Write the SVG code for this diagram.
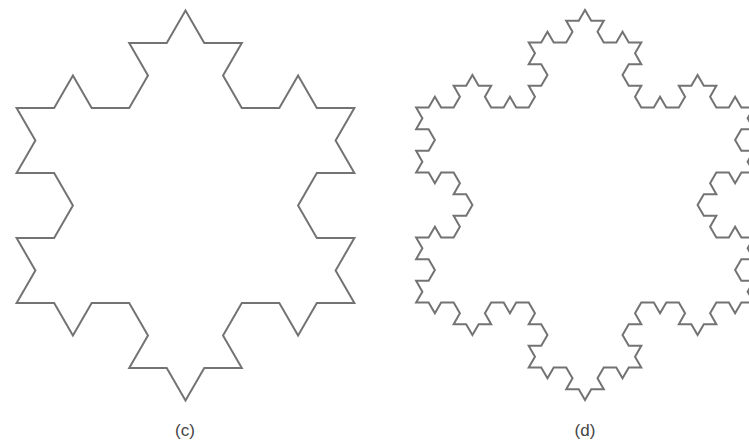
<svg xmlns="http://www.w3.org/2000/svg" width="749" height="447" viewBox="0 0 749 447">
<style>
.koch{fill:none;stroke:#737373;stroke-width:2;stroke-linejoin:miter}
.lbl{font-family:"Liberation Sans",Arial,sans-serif;font-size:17px;fill:#444;text-anchor:middle}
</style>
<rect width="749" height="447" fill="#fff"/>
<g id="snowflake-c">
<path class="koch" d="M185.5,10.5
l-18.764,32.5 l-37.528,0 l18.764,32.5 l-18.764,32.5
l-37.528,0 l-18.764,-32.5 l-18.764,32.5 l-37.528,0
l18.764,32.5 l-18.764,32.5 l37.528,0 l18.764,32.5
l-18.764,32.5 l-37.528,0 l18.764,32.5 l-18.764,32.5
l37.528,0 l18.764,32.5 l18.764,-32.5 l37.528,0
l18.764,32.5 l-18.764,32.5 l37.528,0 l18.764,32.5
l18.764,-32.5 l37.528,0 l-18.764,-32.5 l18.764,-32.5
l37.528,0 l18.764,32.5 l18.764,-32.5 l37.528,0
l-18.764,-32.5 l18.764,-32.5 l-37.528,0 l-18.764,-32.5
l18.764,-32.5 l37.528,0 l-18.764,-32.5 l18.764,-32.5
l-37.528,0 l-18.764,-32.5 l-18.764,32.5 l-37.528,0
l-18.764,-32.5 l18.764,-32.5 l-37.528,0 l-18.764,-32.5 z"/>
<text class="lbl" x="185" y="436">(c)</text>
</g>
<g id="snowflake-d">
<path class="koch" d="M585,10
l-6.255,10.833 l-12.509,0 l6.255,10.833 l-6.255,10.833
l-12.509,0 l-6.255,-10.833 l-6.255,10.833 l-12.509,0
l6.255,10.833 l-6.255,10.833 l12.509,0 l6.255,10.833
l-6.255,10.833 l-12.509,0 l6.255,10.833 l-6.255,10.833

l-12.509,0 l-6.255,-10.833 l-6.255,10.833 l-12.509,0
l-6.255,-10.833 l6.255,-10.833 l-12.509,0 l-6.255,-10.833
l-6.255,10.833 l-12.509,0 l6.255,10.833 l-6.255,10.833
l-12.509,0 l-6.255,-10.833 l-6.255,10.833 l-12.509,0

l6.255,10.833 l-6.255,10.833 l12.509,0 l6.255,10.833
l-6.255,10.833 l-12.509,0 l6.255,10.833 l-6.255,10.833
l12.509,0 l6.255,10.833 l6.255,-10.833 l12.509,0
l6.255,10.833 l-6.255,10.833 l12.509,0 l6.255,10.833

l-6.255,10.833 l-12.509,0 l6.255,10.833 l-6.255,10.833
l-12.509,0 l-6.255,-10.833 l-6.255,10.833 l-12.509,0
l6.255,10.833 l-6.255,10.833 l12.509,0 l6.255,10.833
l-6.255,10.833 l-12.509,0 l6.255,10.833 l-6.255,10.833

l12.509,0 l6.255,10.833 l6.255,-10.833 l12.509,0
l6.255,10.833 l-6.255,10.833 l12.509,0 l6.255,10.833
l6.255,-10.833 l12.509,0 l-6.255,-10.833 l6.255,-10.833
l12.509,0 l6.255,10.833 l6.255,-10.833 l12.509,0

l6.255,10.833 l-6.255,10.833 l12.509,0 l6.255,10.833
l-6.255,10.833 l-12.509,0 l6.255,10.833 l-6.255,10.833
l12.509,0 l6.255,10.833 l6.255,-10.833 l12.509,0
l6.255,10.833 l-6.255,10.833 l12.509,0 l6.255,10.833

l6.255,-10.833 l12.509,0 l-6.255,-10.833 l6.255,-10.833
l12.509,0 l6.255,10.833 l6.255,-10.833 l12.509,0
l-6.255,-10.833 l6.255,-10.833 l-12.509,0 l-6.255,-10.833
l6.255,-10.833 l12.509,0 l-6.255,-10.833 l6.255,-10.833

l12.509,0 l6.255,10.833 l6.255,-10.833 l12.509,0
l6.255,10.833 l-6.255,10.833 l12.509,0 l6.255,10.833
l6.255,-10.833 l12.509,0 l-6.255,-10.833 l6.255,-10.833
l12.509,0 l6.255,10.833 l6.255,-10.833 l12.509,0

l-6.255,-10.833 l6.255,-10.833 l-12.509,0 l-6.255,-10.833
l6.255,-10.833 l12.509,0 l-6.255,-10.833 l6.255,-10.833
l-12.509,0 l-6.255,-10.833 l-6.255,10.833 l-12.509,0
l-6.255,-10.833 l6.255,-10.833 l-12.509,0 l-6.255,-10.833

l6.255,-10.833 l12.509,0 l-6.255,-10.833 l6.255,-10.833
l12.509,0 l6.255,10.833 l6.255,-10.833 l12.509,0
l-6.255,-10.833 l6.255,-10.833 l-12.509,0 l-6.255,-10.833
l6.255,-10.833 l12.509,0 l-6.255,-10.833 l6.255,-10.833

l-12.509,0 l-6.255,-10.833 l-6.255,10.833 l-12.509,0
l-6.255,-10.833 l6.255,-10.833 l-12.509,0 l-6.255,-10.833
l-6.255,10.833 l-12.509,0 l6.255,10.833 l-6.255,10.833
l-12.509,0 l-6.255,-10.833 l-6.255,10.833 l-12.509,0

l-6.255,-10.833 l6.255,-10.833 l-12.509,0 l-6.255,-10.833
l6.255,-10.833 l12.509,0 l-6.255,-10.833 l6.255,-10.833
l-12.509,0 l-6.255,-10.833 l-6.255,10.833 l-12.509,0
l-6.255,-10.833 l6.255,-10.833 l-12.509,0 l-6.255,-10.833 z"/>
<text class="lbl" x="585" y="436">(d)</text>
</g>
</svg>
